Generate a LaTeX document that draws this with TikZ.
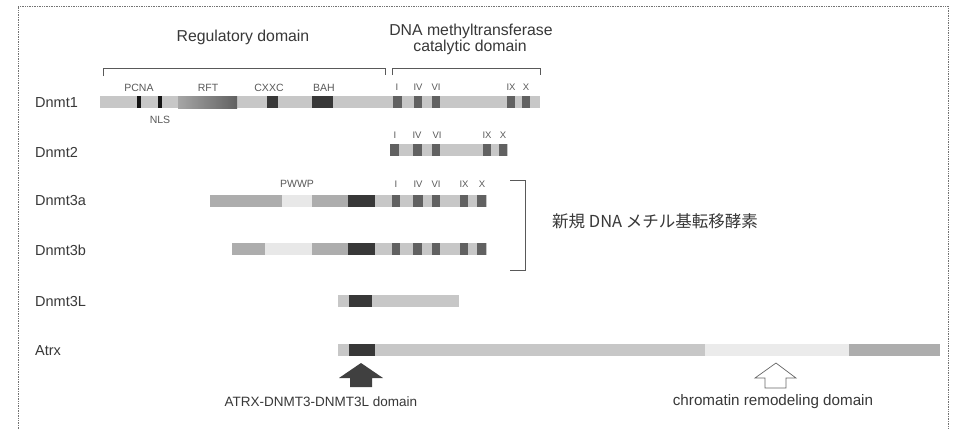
\documentclass[tikz,border=0pt]{standalone}
\usepackage{fontspec}
\setmainfont{Liberation Sans}
\newfontfamily\jpfont{Noto Sans CJK JP}
\begin{document}
\begin{tikzpicture}[x=1pt,y=-1pt,
  txt/.style={inner sep=0pt, text=black!78},
  hdr/.style={txt, font=\fontsize{15.8}{17}\selectfont},
  rowlbl/.style={txt, anchor=west, font=\fontsize{14.5}{16}\selectfont},
  small/.style={txt, font=\fontsize{10.5}{12}\selectfont, text=black!65},
  numl/.style={txt, font=\fontsize{9.5}{11}\selectfont, text=black!65},
  frame/.style={draw=black!55, line width=0.7pt, densely dotted},
  brk/.style={draw=black!65, line width=0.7pt},
  lightbar/.style={fill=black!22},
  palebar/.style={fill=black!9},
  midbar/.style={fill=black!32},
  darkblk/.style={fill=black!78},
  motif/.style={fill=black!62},
  blackbar/.style={fill=black!92}
]
\useasboundingbox (0,0) rectangle (954,429);
\fill[white] (0,0) rectangle (954,429);
% frame
\draw[frame] (18,429) -- (18,6) -- (948,6) -- (948,429);

% headers
\node[hdr] (reg) at (243,37) {Regulatory domain};
\node[hdr] (cat1) at (471,31) {DNA methyltransferase};
\node[hdr] (cat2) at (470,47) {catalytic domain};
\draw[brk] (103,76) -- (103,68) -- (385,68) -- (385,75);
\draw[brk] (392,75) -- (392,68) -- (540,68) -- (540,75);

% ---------- Dnmt1 ----------
\node[rowlbl] (l1) at (35,103) {Dnmt1};
\fill[lightbar] (100,96) rectangle (540,108);
\fill[blackbar] (137,96) rectangle (141,108);
\fill[blackbar] (158,96) rectangle (162,108);
\shade[left color=black!35, right color=black!62] (178,96) rectangle (237,108);
\fill[darkblk] (267,96) rectangle (278,108);
\fill[darkblk] (312,96) rectangle (333,108);
\foreach \a/\b in {393/402,414/422,432/440,507/515,522/530}
  \fill[motif] (\a,96) rectangle (\b,108);
\node[small] (pcna) at (139,88) {PCNA};
\node[small] (rft) at (208,88) {RFT};
\node[small] (cxxc) at (269,88) {CXXC};
\node[small] (bah) at (324,88) {BAH};
\node[small] (nls) at (160,120) {NLS};
\node[numl] (d1i) at (397,87) {I};
\node[numl] (d1iv) at (418,87) {IV};
\node[numl] (d1vi) at (436,87) {VI};
\node[numl] (d1ix) at (511,87) {IX};
\node[numl] (d1x) at (526,87) {X};

% ---------- Dnmt2 ----------
\node[rowlbl] (l2) at (35,152) {Dnmt2};
\fill[lightbar] (390,144) rectangle (508,156);
\foreach \a/\b in {390/399,413/422,432/440,483/491,499/507}
  \fill[motif] (\a,144) rectangle (\b,156);
\node[numl] (d2i) at (395,135) {I};
\node[numl] (d2iv) at (417,135) {IV};
\node[numl] (d2vi) at (437,135) {VI};
\node[numl] (d2ix) at (487,135) {IX};
\node[numl] (d2x) at (503,135) {X};

% ---------- Dnmt3a ----------
\node[rowlbl] (l3a) at (35,201) {Dnmt3a};
\fill[lightbar] (210,195) rectangle (487,207);
\fill[midbar] (210,195) rectangle (282,207);
\fill[palebar] (282,195) rectangle (312,207);
\fill[midbar] (312,195) rectangle (348,207);
\fill[darkblk] (348,195) rectangle (375,207);
\foreach \a/\b in {392/400,413/423,432/440,460/468,477/486}
  \fill[motif] (\a,195) rectangle (\b,207);
\node[small] (pwwp) at (297,184) {PWWP};
\node[numl] (d3i) at (396,184) {I};
\node[numl] (d3iv) at (418,184) {IV};
\node[numl] (d3vi) at (436,184) {VI};
\node[numl] (d3ix) at (464,184) {IX};
\node[numl] (d3x) at (482,184) {X};

% ---------- Dnmt3b ----------
\node[rowlbl] (l3b) at (35,250) {Dnmt3b};
\fill[lightbar] (232,243) rectangle (487,255);
\fill[midbar] (232,243) rectangle (265,255);
\fill[palebar] (265,243) rectangle (312,255);
\fill[midbar] (312,243) rectangle (348,255);
\fill[darkblk] (348,243) rectangle (375,255);
\foreach \a/\b in {392/400,413/422,432/440,460/468,477/486}
  \fill[motif] (\a,243) rectangle (\b,255);

% bracket de novo
\draw[brk] (510,180) -- (525,180) -- (525,270) -- (510,270);
\node[txt, anchor=west, font=\jpfont\fontsize{16.5}{18}\selectfont] (denovo) at (552,221) {新規 DNA メチル基転移酵素};

% ---------- Dnmt3L ----------
\node[rowlbl] (l3l) at (35,302) {Dnmt3L};
\fill[lightbar] (338,295) rectangle (459,307);
\fill[darkblk] (349,295) rectangle (372,307);

% ---------- Atrx ----------
\node[rowlbl] (latrx) at (35,351) {Atrx};
\fill[lightbar] (338,344) rectangle (705,356);
\fill[black!8] (705,344) rectangle (849,356);
\fill[midbar] (849,344) rectangle (940,356);
\fill[darkblk] (349,344) rectangle (375,356);

% arrows
\fill[black!75] (361,363) -- (383,378) -- (372,378) -- (372,387) -- (350,387) -- (350,378) -- (339,378) -- cycle;
\draw[black!60, line width=0.7pt, fill=white] (776,363) -- (796,378) -- (786,378) -- (786,388) -- (765,388) -- (765,378) -- (755,378) -- cycle;
\node[txt, font=\fontsize{13.5}{15}\selectfont] (atrxdom) at (321,402) {ATRX-DNMT3-DNMT3L domain};
\node[txt, font=\fontsize{15.2}{17}\selectfont] (chrom) at (773,402) {chromatin remodeling domain};
\end{tikzpicture}
\end{document}
